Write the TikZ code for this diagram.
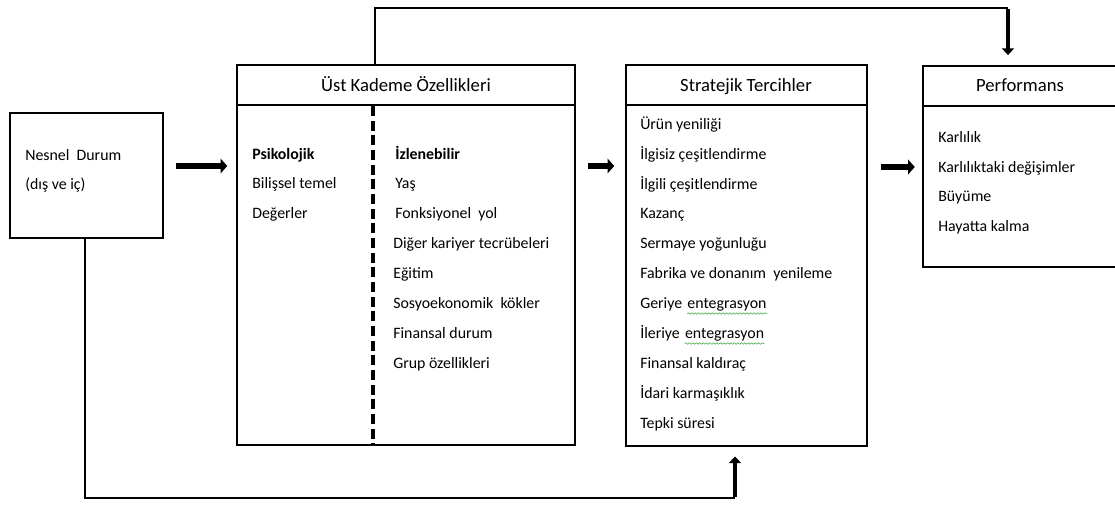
\documentclass[tikz,border=0pt]{standalone}
\usepackage{fontspec}
\setmainfont{Carlito}
\usetikzlibrary{arrows.meta,fit,decorations.pathmorphing}

\begin{document}
\begin{tikzpicture}[x=0.75pt,y=-0.75pt,
  frame/.style={draw, line width=1.7pt, inner sep=0pt},
  rule/.style={line width=1.7pt},
  divider/.style={line width=3pt, dash pattern=on 7.5pt off 3.5pt},
  item/.style={anchor=base west, inner sep=0pt, font=\fontsize{11.9}{14}\selectfont},
  heading/.style={anchor=base, inner sep=0pt, font=\fontsize{14}{17}\selectfont},
  fat/.style={line width=4.5pt, -{Triangle[length=5pt,width=11pt]}},
  link/.style={line width=2.2pt},
  linkhead/.style={-{Triangle[length=5pt,width=9pt]}},
  spell/.style={draw=green!55!black!70, line width=0.45pt,
    decorate, decoration={snake, segment length=2.6pt, amplitude=0.55pt}}
]
\useasboundingbox (0,0) rectangle (1115,505);

% ---- boxes ----
\node[frame, fit={(10,113) (163,238)}] (nes) {};
\node[frame, fit={(237,65) (575,445)}] (ust) {};
\node[frame, fit={(626,65) (867,446)}] (str) {};
\node[inner sep=0pt, fit={(923,66) (1122,267)}] (perf) {};
\draw[rule] (perf.north east) -- (perf.north west) -- (perf.south west) -- (perf.south east);

% header rules
\draw[rule] (ust.west |- 0,105) -- (ust.east |- 0,105);
\draw[rule] (str.west |- 0,105) -- (str.east |- 0,105);
\draw[rule] (perf.west |- 0,106) -- (perf.east |- 0,106);

% dashed split inside the executive box
\draw[divider] (373,106) -- (ust.south -| 373,0);

% ---- headings ----
\node[heading] (tust) at (406,92) {Üst Kademe Özellikleri};
\node[heading] (tstr) at (746,92) {Stratejik Tercihler};
\node[heading] (tperf) at (1020,92) {Performans};

% ---- situation box ----
\node[item] (n1) at (25,161) {Nesnel\ \ Durum};
\node[item] (n2) at (25,190) {(dış ve iç)};

% ---- executive characteristics ----
\node[item, font=\fontsize{11.9}{14}\selectfont\bfseries] (p0) at (252,160) {Psikolojik};
\node[item] (p1) at (252,189) {Bilişsel temel};
\node[item] (p2) at (252,219) {Değerler};

\node[item, font=\fontsize{11.9}{14}\selectfont\bfseries] (o0) at (395,160) {İzlenebilir};
\node[item] (o1) at (395,189) {Yaş};
\node[item] (o2) at (395,219) {Fonksiyonel\ \ yol};
\node[item] (o3) at (393,249) {Diğer kariyer tecrübeleri};
\node[item] (o4) at (393,279) {Eğitim};
\node[item] (o5) at (393,309) {Sosyoekonomik\ \ kökler};
\node[item] (o6) at (393,339) {Finansal durum};
\node[item] (o7) at (393,369) {Grup özellikleri};

% ---- strategic choices ----
\node[item] (s1) at (640,130) {Ürün yeniliği};
\node[item] (s2) at (640,160) {İlgisiz çeşitlendirme};
\node[item] (s3) at (640,190) {İlgili çeşitlendirme};
\node[item] (s4) at (640,219) {Kazanç};
\node[item] (s5) at (640,249) {Sermaye yoğunluğu};
\node[item] (s6) at (640,279) {Fabrika ve donanım\ \ yenileme};
\node[item] (s7a) at (640,309) {Geriye};
\node[item] (s7b) at ([xshift=3.5]s7a.base east) {entegrasyon};
\node[item] (s8a) at (640,339) {İleriye};
\node[item] (s8b) at ([xshift=3.5]s8a.base east) {entegrasyon};
\node[item] (s9) at (640,369) {Finansal kaldıraç};
\node[item] (s10) at (640,399) {İdari karmaşıklık};
\node[item] (s11) at (640,429) {Tepki süresi};

\draw[spell] ([yshift=-3.4]s7b.base west) -- ([yshift=-3.4]s7b.base east);
\draw[spell] ([yshift=-3.4]s8b.base west) -- ([yshift=-3.4]s8b.base east);

% ---- performance ----
\node[item] (f1) at (938,143) {Karlılık};
\node[item] (f2) at (938,173) {Karlılıktaki değişimler};
\node[item] (f3) at (938,202) {Büyüme};
\node[item] (f4) at (938,232) {Hayatta kalma};

% ---- thick arrows between the boxes ----
\draw[fat, shorten <=9pt, shorten >=6.5pt] (nes.east |- 0,166) -- (ust.west |- 0,166);
\draw[fat, shorten <=9pt, shorten >=8pt] (ust.east |- 0,166) -- (str.west |- 0,166);
\draw[fat, shorten <=9.5pt, shorten >=6pt] (str.east |- 0,167) -- (perf.west |- 0,167);

% ---- feedback connectors ----
\coordinate (topL) at (375,8);
\coordinate (topR) at (1008,8);
\draw[link] (ust.north -| topL) -- (topL) -- (topR);
\draw[link, line width=3pt, linkhead, shorten >=8pt] ([yshift=-1.1pt]topR) -- (perf.north -| topR);

\coordinate (botL) at (85,498);
\coordinate (botR) at (735,498);
\draw[link] (nes.south -| botL) -- (botL) -- (botR);
\draw[link, line width=3pt, linkhead, shorten >=7pt] ([yshift=1.1pt]botR) -- (str.south -| botR);
\end{tikzpicture}
\end{document}
